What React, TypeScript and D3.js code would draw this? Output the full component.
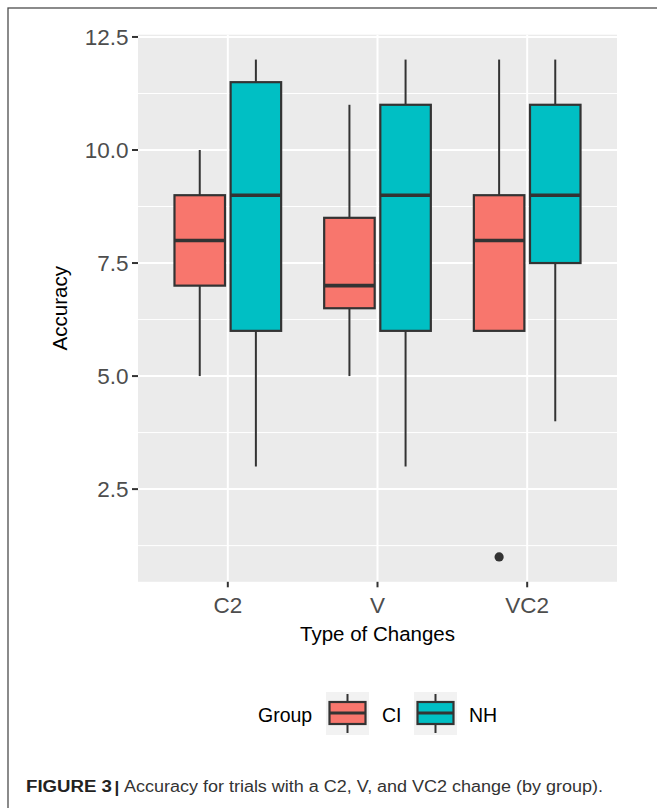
import React from "react";
import * as d3 from "d3";

const categories = ["C2", "V", "VC2"];
const groups = ["CI", "NH"];
const groupColors = ["#F8766D", "#00BFC4"];

// five-number summaries per category (order follows categories)
const ciLower = [5, 5, 6];
const ciQ1 = [7, 6.5, 6];
const ciMedian = [8, 7, 8];
const ciQ3 = [9, 8.5, 9];
const ciUpper = [10, 11, 12];

const nhLower = [3, 3, 4];
const nhQ1 = [6, 6, 7.5];
const nhMedian = [9, 9, 9];
const nhQ3 = [11.5, 11, 11];
const nhUpper = [12, 12, 12];

const outlierCategory = ["VC2"];
const outlierGroup = ["CI"];
const outlierValue = [1];

const yMajorTicks = [2.5, 5, 7.5, 10, 12.5];
const yMinorTicks = [1.25, 3.75, 6.25, 8.75, 11.25];

const xTitle = "Type of Changes";
const yTitle = "Accuracy";
const legendTitle = "Group";
const captionBold = "FIGURE 3";
const captionText = "Accuracy for trials with a C2, V, and VC2 change (by group).";

const W = 657;
const H = 808;
const panel = { left: 138, right: 617, top: 34.7, bottom: 581.8 };

const FONT = "'Liberation Sans', Arial, Helvetica, sans-serif";

export default function App() {
  const y = d3.scaleLinear().domain([0.45, 12.55]).range([panel.bottom, panel.top]);
  const x = d3.scalePoint<string>().domain(categories).range([panel.left, panel.right]).padding(0.6);
  const step = x.step();
  const xSub = d3
    .scaleBand<string>()
    .domain(groups)
    .range([-0.375 * step, 0.375 * step])
    .padding(0);
  const bw = xSub.bandwidth() * 0.9;
  const fmt = d3.format(".1f");

  const stats = [
    { lower: ciLower, q1: ciQ1, med: ciMedian, q3: ciQ3, upper: ciUpper },
    { lower: nhLower, q1: nhQ1, med: nhMedian, q3: nhQ3, upper: nhUpper },
  ];

  const boxes: any[] = [];
  groups.forEach((g, gi) => {
    categories.forEach((c, ci) => {
      const s = stats[gi];
      boxes.push({
        key: g + c,
        cx: (x(c) as number) + (xSub(g) as number) + xSub.bandwidth() / 2,
        fill: groupColors[gi],
        lower: s.lower[ci],
        q1: s.q1[ci],
        med: s.med[ci],
        q3: s.q3[ci],
        upper: s.upper[ci],
      });
    });
  });

  const stroke = "#333333";

  // legend layout
  const legendKeyX = [326, 414];
  const legendKeyY = 692;
  const keySize = 43;
  const legendLabelX = [382, 469];

  return (
    <svg
      width={W}
      height={H}
      style={{ position: "absolute", left: 0, top: 0, background: "#fff" }}
      fontFamily={FONT}
    >
      <rect x={0} y={0} width={W} height={H} fill="#fff" />
      <rect x={8} y={8} width={W + 20} height={H + 20} fill="none" stroke="#4d4d4d" strokeWidth={1.3} />

      {/* panel */}
      <rect
        x={panel.left}
        y={panel.top}
        width={panel.right - panel.left}
        height={panel.bottom - panel.top}
        fill="#EBEBEB"
      />
      {yMinorTicks.map((t) => (
        <line key={"mn" + t} x1={panel.left} x2={panel.right} y1={y(t)} y2={y(t)} stroke="#fff" strokeWidth={1} />
      ))}
      {yMajorTicks.map((t) => (
        <line key={"mj" + t} x1={panel.left} x2={panel.right} y1={y(t)} y2={y(t)} stroke="#fff" strokeWidth={2} />
      ))}
      {categories.map((c) => (
        <line
          key={"vx" + c}
          x1={x(c)}
          x2={x(c)}
          y1={panel.top}
          y2={panel.bottom}
          stroke="#fff"
          strokeWidth={2}
        />
      ))}

      {/* boxes */}
      {boxes.map((b) => (
        <g key={b.key}>
          <line x1={b.cx} x2={b.cx} y1={y(b.upper)} y2={y(b.q3)} stroke={stroke} strokeWidth={2} />
          <line x1={b.cx} x2={b.cx} y1={y(b.q1)} y2={y(b.lower)} stroke={stroke} strokeWidth={2} />
          <rect
            x={b.cx - bw / 2}
            y={y(b.q3)}
            width={bw}
            height={y(b.q1) - y(b.q3)}
            fill={b.fill}
            stroke={stroke}
            strokeWidth={2.2}
          />
          <line
            x1={b.cx - bw / 2}
            x2={b.cx + bw / 2}
            y1={y(b.med)}
            y2={y(b.med)}
            stroke={stroke}
            strokeWidth={3.6}
          />
        </g>
      ))}
      {outlierValue.map((v, i) => {
        const cx =
          (x(outlierCategory[i]) as number) + (xSub(outlierGroup[i]) as number) + xSub.bandwidth() / 2;
        return <circle key={"o" + i} cx={cx} cy={y(v)} r={4.6} fill={stroke} />;
      })}

      {/* y axis */}
      {yMajorTicks.map((t) => (
        <g key={"yt" + t}>
          <line x1={132} x2={138} y1={y(t)} y2={y(t)} stroke={stroke} strokeWidth={2} />
          <text x={128.5} y={y(t) + 8} textAnchor="end" fontSize={22.5} fill="#4D4D4D">
            {fmt(t)}
          </text>
        </g>
      ))}
      {/* x axis */}
      {categories.map((c) => (
        <g key={"xt" + c}>
          <line x1={x(c)} x2={x(c)} y1={panel.bottom} y2={panel.bottom + 5.5} stroke={stroke} strokeWidth={2} />
          <text x={x(c)} y={613} textAnchor="middle" fontSize={22.5} fill="#4D4D4D">
            {c}
          </text>
        </g>
      ))}

      {/* axis titles */}
      <text x={(panel.left + panel.right) / 2} y={641} textAnchor="middle" fontSize={20.5} fill="#000">
        {xTitle}
      </text>
      <text
        transform={`translate(${67},${(panel.top + panel.bottom) / 2}) rotate(-90)`}
        textAnchor="middle"
        fontSize={20.5}
        fill="#000"
      >
        {yTitle}
      </text>

      {/* legend */}
      <text x={258} y={721.5} fontSize={19.5} fill="#000">
        {legendTitle}
      </text>
      {groups.map((g, gi) => {
        const kx = legendKeyX[gi];
        const cx = kx + keySize / 2;
        return (
          <g key={"lg" + g}>
            <rect x={kx} y={legendKeyY} width={keySize} height={keySize} fill="#F2F2F2" />
            <line x1={cx} x2={cx} y1={legendKeyY + 2} y2={legendKeyY + keySize - 2} stroke={stroke} strokeWidth={2} />
            <rect
              x={kx + 3.5}
              y={legendKeyY + 10}
              width={keySize - 7}
              height={22}
              fill={groupColors[gi]}
              stroke={stroke}
              strokeWidth={2.2}
            />
            <line
              x1={kx + 3.5}
              x2={kx + keySize - 3.5}
              y1={legendKeyY + 21}
              y2={legendKeyY + 21}
              stroke={stroke}
              strokeWidth={3}
            />
            <text x={legendLabelX[gi]} y={721.5} fontSize={19.5} fill="#000">
              {g}
            </text>
          </g>
        );
      })}

      {/* caption */}
      <text x={26} y={792} fontSize={16} fontWeight="bold" fill="#222" textLength={86} lengthAdjust="spacingAndGlyphs">
        {captionBold}
      </text>
      <text x={114.5} y={793} fontSize={17} fontWeight="bold" fill="#222">
        |
      </text>
      <text x={124} y={792} fontSize={16} fill="#333" textLength={479} lengthAdjust="spacingAndGlyphs">
        {captionText}
      </text>
    </svg>
  );
}
